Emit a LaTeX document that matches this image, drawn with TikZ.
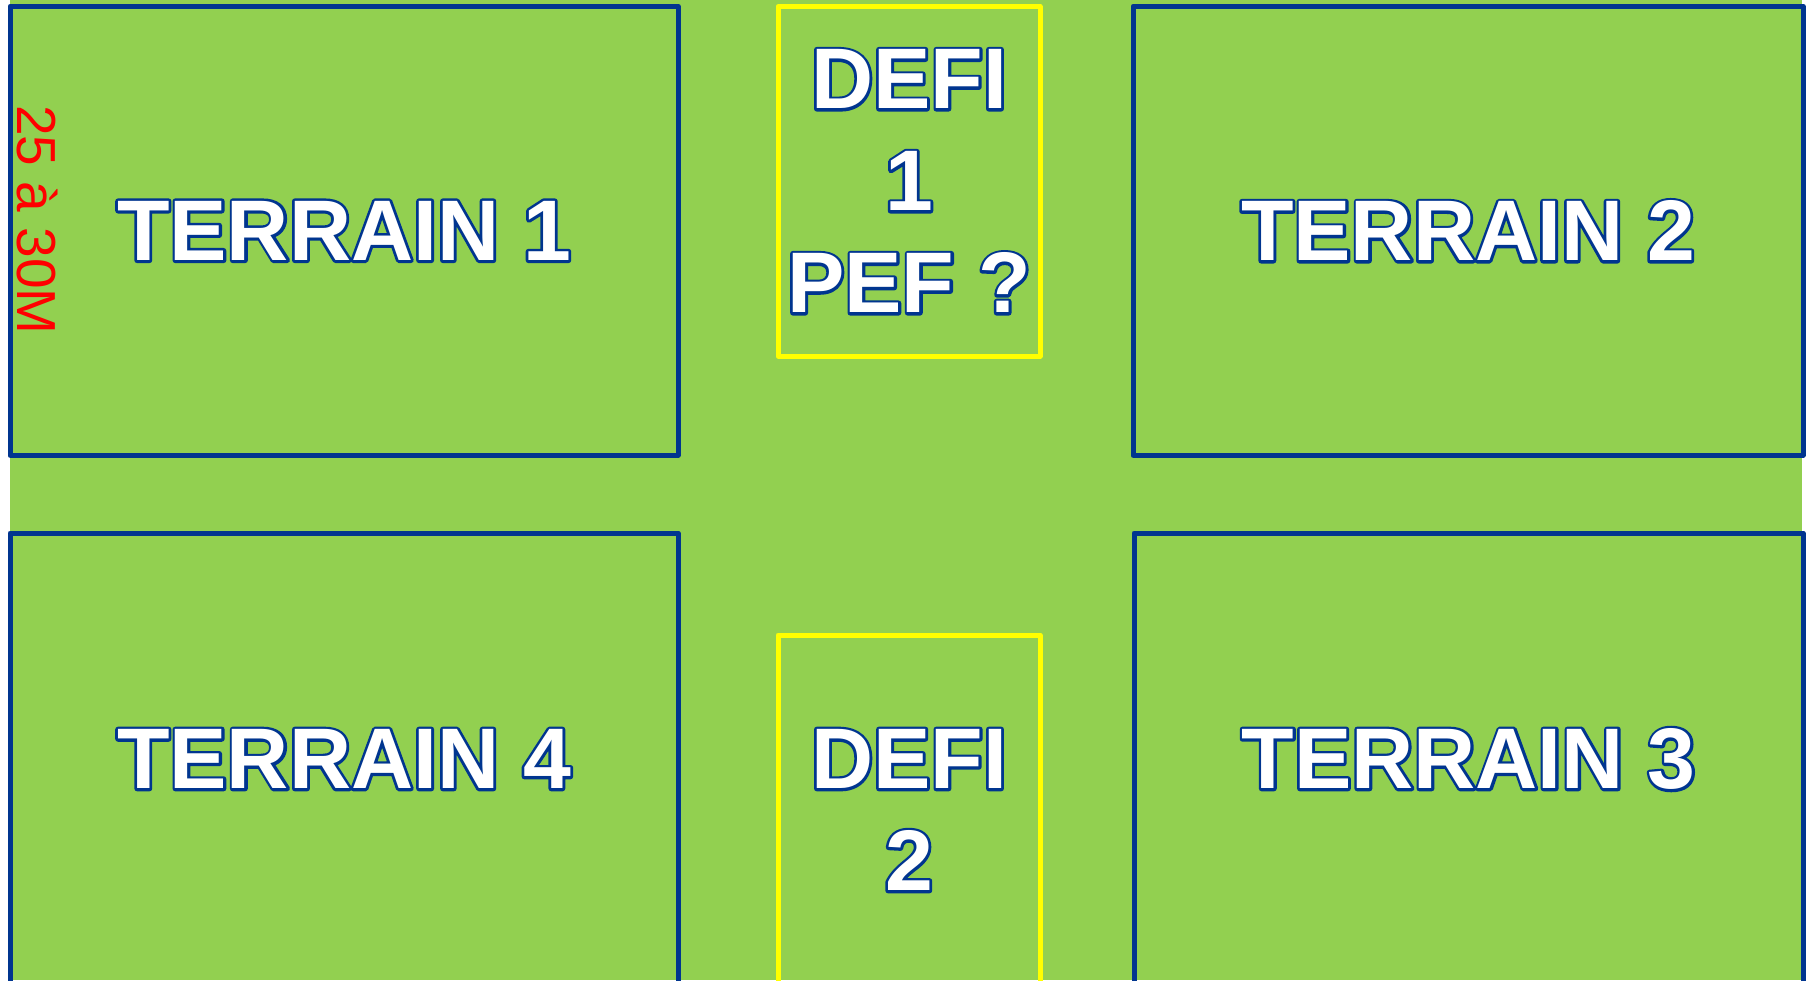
\documentclass[tikz,border=0pt]{standalone}
\usepackage{fontspec}
\setmainfont{Liberation Sans}
\usetikzlibrary{positioning}
\definecolor{grass}{HTML}{92D050}
\definecolor{fieldblue}{HTML}{00358F}
\definecolor{defiyellow}{HTML}{FFFF00}
% white letters with a blue outline drawn behind them
\newcommand{\outlined}[1]{\rlap{\special{pdf:literal direct 1 Tr 5.5 w 1 J 1 j 0 0.208 0.561 RG}#1\special{pdf:literal direct 0 Tr}}#1}

\begin{document}
\begin{tikzpicture}[x=1pt, y=-1pt,
    terrain/.style={draw=fieldblue, line width=5pt, line join=round,
      minimum width=668pt, minimum height=449pt, inner sep=0pt,
      text=white, font=\bfseries\fontsize{86}{101}\selectfont},
    defi/.style={draw=defiyellow, line width=5pt, line join=round,
      minimum width=262pt, minimum height=350pt, inner sep=0pt,
      align=center, text=white, font=\bfseries\fontsize{86}{102}\selectfont},
    dimtext/.style={rotate=-90, text=red, inner sep=0pt,
      font=\fontsize{55}{64}\selectfont}]
  \useasboundingbox (0,0) rectangle (1810,980);
  % grass
  \fill[grass] (10,0) rectangle (1802,980);
  % fields
  \node[terrain] (t1) at (344,230.75) {\outlined{TERRAIN 1}};
  \node[terrain, minimum width=670pt] (t2) at (1468,230.75) {\outlined{TERRAIN 2}};
  \node[terrain, minimum width=669pt, minimum height=452pt] (t3) at (1468.5,759) {\outlined{TERRAIN 3}};
  \node[terrain, minimum height=452pt] (t4) at (344,759) {\outlined{TERRAIN 4}};
  % challenge zones
  \node[defi, minimum height=349.5pt] (d1) at (909,181.25)
    {\outlined{DEFI}\\\outlined{1}\\\outlined{PEF ?}};
  \node[defi] (d2) at (909,810) {\outlined{DEFI}\\\outlined{2}};
  % size
  \node[dimtext] (dim) at (37,220) {25 à 30M};
\end{tikzpicture}
\end{document}
